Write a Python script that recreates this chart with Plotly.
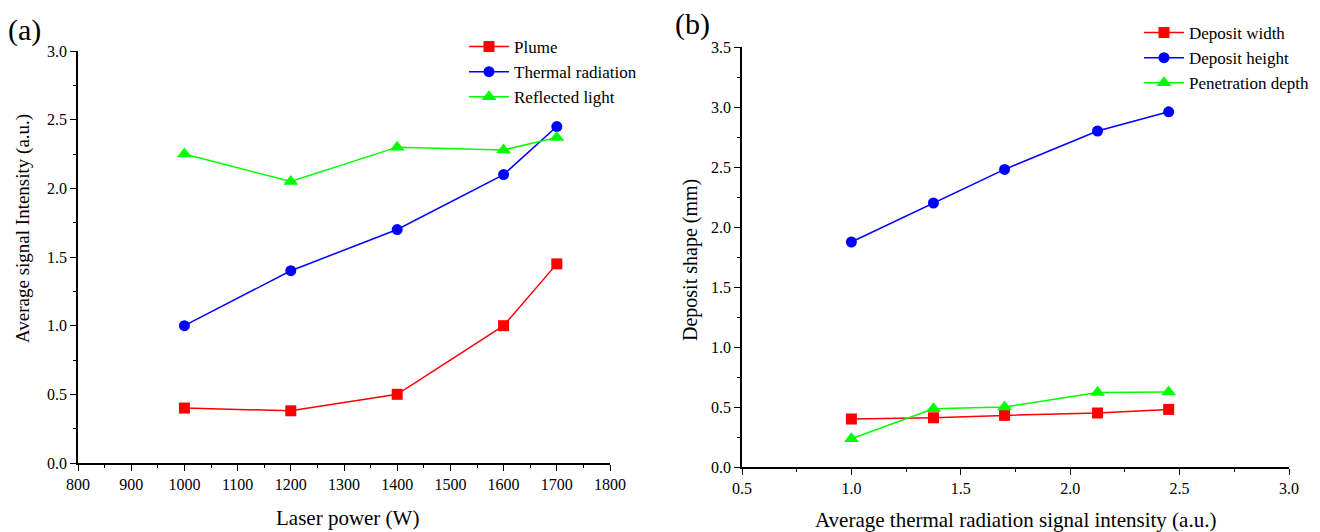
import plotly.graph_objects as go

# Panel (a) data
laser_power = [1000, 1200, 1400, 1600, 1700]
plume = [0.40, 0.38, 0.50, 1.00, 1.45]
thermal = [1.00, 1.40, 1.70, 2.10, 2.45]
reflected = [2.25, 2.05, 2.30, 2.28, 2.37]

# Panel (b) data
thermal_intensity = [1.0, 1.375, 1.70, 2.125, 2.45]
dep_width = [0.40, 0.41, 0.43, 0.45, 0.48]
dep_height = [1.875, 2.20, 2.48, 2.80, 2.96]
pen_depth = [0.235, 0.485, 0.50, 0.62, 0.625]

RED, BLUE, GREEN = "#ff0000", "#0000ff", "#00ff00"
FONT = "Liberation Serif, Times New Roman, serif"

fig = go.Figure()

def add(x, y, name, color, symbol, size, xa, ya, legend):
    fig.add_trace(go.Scatter(
        x=x, y=y, name=name, mode="lines+markers",
        line=dict(color=color, width=1.5),
        marker=dict(symbol=symbol, size=size, color=color),
        xaxis=xa, yaxis=ya, legend=legend))

add(laser_power, plume, "Plume", RED, "square", 11, "x", "y", "legend")
add(laser_power, thermal, "Thermal radiation", BLUE, "circle", 11, "x", "y", "legend")
add(laser_power, reflected, "Reflected light", GREEN, "triangle-up", 13, "x", "y", "legend")

add(thermal_intensity, dep_width, "Deposit width", RED, "square", 11, "x2", "y2", "legend2")
add(thermal_intensity, dep_height, "Deposit height", BLUE, "circle", 11, "x2", "y2", "legend2")
add(thermal_intensity, pen_depth, "Penetration depth", GREEN, "triangle-up", 13, "x2", "y2", "legend2")

W, H = 1320, 532

def minor(d):
    return dict(ticks="outside", ticklen=3, tickwidth=1.2, tickcolor="black", dtick=d)

def ax_common():
    return dict(showline=True, linecolor="black", linewidth=1.5, mirror=False,
                ticks="outside", ticklen=6, tickwidth=1.2, tickcolor="black",
                showgrid=False, zeroline=False, automargin=False,
                tickfont=dict(family=FONT, size=16, color="black"))

xa = ax_common()
xa.update(domain=[78/W, 610/W], range=[800, 1800], dtick=100, tick0=800,
          anchor="y", minor=minor(50))
ya = ax_common()
ya.update(domain=[(H-463)/H, (H-51)/H], range=[0, 3.0], dtick=0.5, tick0=0, tickformat=".1f",
          anchor="x", minor=minor(0.25))

xb = ax_common()
xb.update(domain=[742/W, 1289/W], range=[0.5, 3.0], dtick=0.5, tick0=0.5, tickformat=".1f",
          anchor="y2", minor=minor(0.25))
yb = ax_common()
yb.update(domain=[(H-467)/H, (H-47)/H], range=[0, 3.5], dtick=0.5, tick0=0, tickformat=".1f",
          anchor="x2", minor=minor(0.25))

LF = dict(family=FONT, size=17, color="black")

def label(text, x, y, size, angle=0):
    return dict(text=text, x=x / W, y=1 - y / H, xref="paper", yref="paper",
                xanchor="center", yanchor="middle", textangle=angle,
                showarrow=False, font=dict(family=FONT, size=size, color="black"))

fig.update_layout(
    width=W, height=H,
    font=dict(family=FONT, color="black"),
    margin=dict(l=0, r=0, t=0, b=0),
    paper_bgcolor="white", plot_bgcolor="white",
    xaxis=xa, yaxis=ya, xaxis2=xb, yaxis2=yb,
    legend=dict(x=464/W, y=1 - 29/H, xanchor="left", yanchor="top",
                font=LF, bgcolor="rgba(0,0,0,0)", itemwidth=40),
    legend2=dict(x=1139/W, y=1 - 15/H, xanchor="left", yanchor="top",
                 font=LF, bgcolor="rgba(0,0,0,0)", itemwidth=40),
    annotations=[
        label("(a)", 24, 30, 30),
        label("(b)", 692, 24, 30),
        label("Laser power (W)", 347, 518, 21),
        label("Average thermal radiation signal intensity (a.u.)", 1015, 520, 21),
        label("Average signal Intensity (a.u.)", 23, 229, 19, -90),
        label("Deposit shape (mm)", 690, 260, 20, -90),
    ],
)

fig.write_html("out.html")
